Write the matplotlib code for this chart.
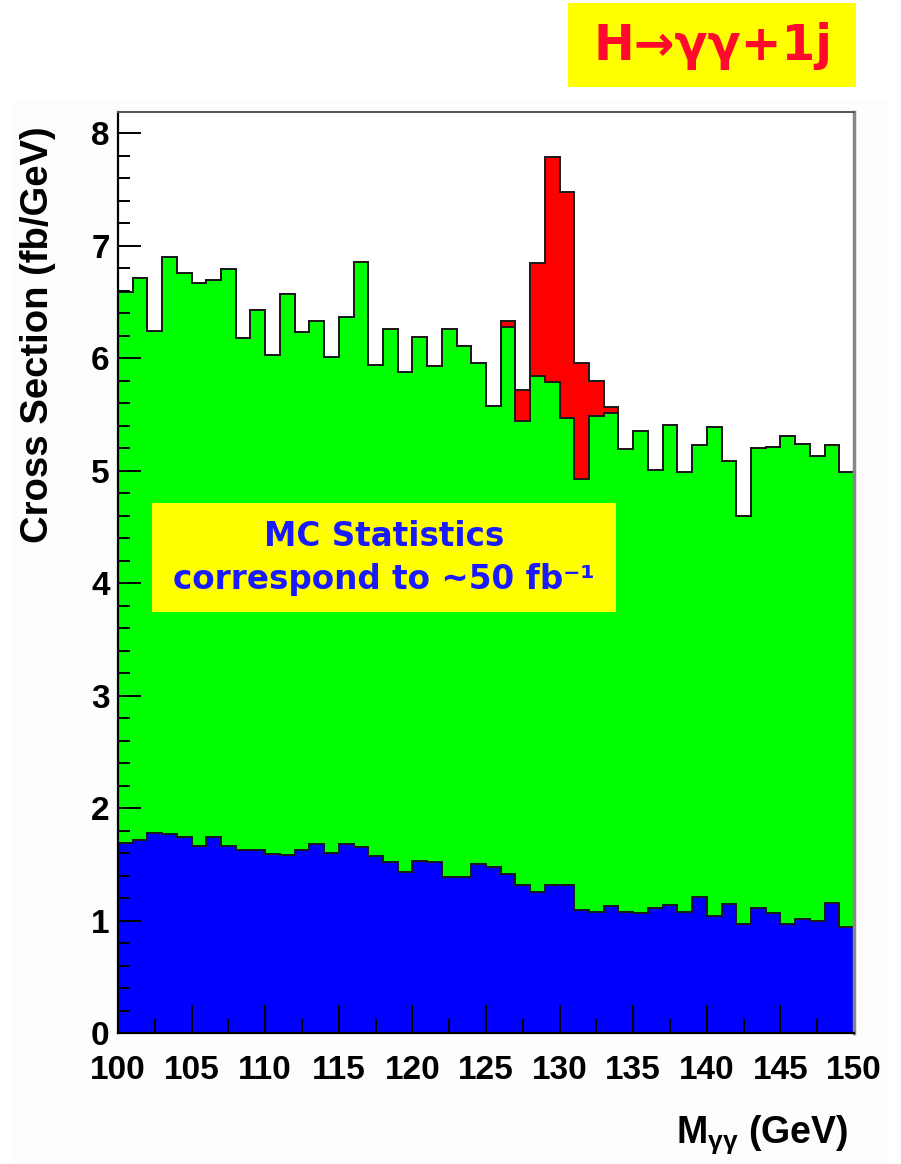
#!/usr/bin/env python3
# -*- coding: utf-8 -*-
"""
H -> gamma gamma + 1 jet: diphoton mass spectrum, signal over background
"""

import numpy as np
import matplotlib.pyplot as plt
from matplotlib.patches import Rectangle
from matplotlib.ticker import MultipleLocator

plt.rcParams['mathtext.fontset'] = 'custom'
plt.rcParams['mathtext.rm'] = 'Liberation Sans:bold'
plt.rcParams['mathtext.it'] = 'Liberation Sans:bold'
plt.rcParams['mathtext.bf'] = 'Liberation Sans:bold'

# 1 GeV bins from 100 to 150 GeV
bin_edges = np.arange(100, 151, 1)

# total background (green top), fb/GeV
background = [
    6.59, 6.71, 6.24, 6.90, 6.76, 6.67, 6.70, 6.79, 6.18, 6.43,
    6.03, 6.57, 6.23, 6.33, 6.01, 6.37, 6.86, 5.94, 6.26, 5.88,
    6.19, 5.93, 6.26, 6.11, 5.96, 5.58, 6.28, 5.44, 5.84, 5.79,
    5.47, 4.93, 5.49, 5.51, 5.19, 5.35, 5.01, 5.41, 4.99, 5.23,
    5.39, 5.09, 4.60, 5.20, 5.21, 5.31, 5.24, 5.13, 5.23, 4.99,
]

# Higgs signal stacked on top of the background
signal = [0.0] * 26 + [0.05, 0.28, 1.01, 2.00, 2.01, 1.03, 0.31, 0.06] + [0.0] * 16

# irreducible part of the background (blue)
irreducible = [
    1.69, 1.72, 1.78, 1.77, 1.74, 1.66, 1.745, 1.66, 1.63, 1.63,
    1.59, 1.58, 1.63, 1.68, 1.60, 1.68, 1.65, 1.57, 1.52, 1.43,
    1.53, 1.52, 1.39, 1.39, 1.50, 1.48, 1.41, 1.32, 1.25, 1.32,
    1.32, 1.09, 1.08, 1.13, 1.08, 1.07, 1.11, 1.14, 1.08, 1.21,
    1.04, 1.15, 0.97, 1.11, 1.07, 0.97, 1.01, 1.00, 1.16, 0.94,
]

x_ticks = np.arange(100, 151, 5)
y_ticks = np.arange(0, 9, 1)

W, H = 901, 1164
fig = plt.figure(figsize=(W / 100, H / 100), dpi=100)

# faint pad background
fig.patches.append(Rectangle((13 / W, 0), 875 / W, 1 - 100 / H, transform=fig.transFigure,
                             facecolor='#fdfdfd', edgecolor='none', zorder=-10))

ax = fig.add_axes([118 / W, 131 / H, 736 / W, 921 / H])
ax.set_facecolor('white')

total = np.array(background) + np.array(signal)
layers = [(total, '#ff0000'), (background, '#00ff00'), (irreducible, '#0000ff')]
for vals, col in layers:
    ax.stairs(vals, bin_edges, baseline=0, fill=True, color=col, zorder=0.5)
    ax.stairs(vals, bin_edges, baseline=0, fill=False, color='#1a1a1a', lw=1.4, zorder=0.6)

ax.set_xlim(100, 150)
ax.set_ylim(0, 8.19)

ax.xaxis.set_major_locator(MultipleLocator(5))
ax.xaxis.set_minor_locator(MultipleLocator(2.5))
ax.yaxis.set_major_locator(MultipleLocator(1))
ax.yaxis.set_minor_locator(MultipleLocator(0.2))
ax.set_xticks(x_ticks)
ax.set_yticks(y_ticks)

ax.tick_params(axis='x', which='major', direction='in', length=20, width=1.4, pad=16,
               top=False, labelsize=24)
ax.tick_params(axis='x', which='minor', direction='in', length=10, width=1.4, top=False)
ax.tick_params(axis='y', which='major', direction='in', length=16.5, width=1.4, pad=6,
               right=False, labelsize=24)
ax.tick_params(axis='y', which='minor', direction='in', length=8.5, width=1.4, right=False)
for lab in ax.get_xticklabels() + ax.get_yticklabels():
    lab.set_fontfamily('Liberation Sans')
    lab.set_fontweight('bold')

ax.spines['left'].set_linewidth(1.6)
ax.spines['bottom'].set_linewidth(1.6)
ax.spines['top'].set_color('#555555')
ax.spines['top'].set_linewidth(1.4)
ax.spines['right'].set_color('#888888')
ax.spines['right'].set_linewidth(2.5)

# axis titles
fig.text(38 / W, 1 - 335 / H, 'Cross Section (fb/GeV)', rotation=90, ha='center', va='center',
         fontsize=27.5, fontfamily='Liberation Sans', fontweight='bold')
fig.text(848 / W, 1 - 1135 / H, r'M$_{\mathregular{γγ}}$ (GeV)', ha='right', va='center',
         fontsize=27, fontfamily='Liberation Sans', fontweight='bold')

# channel label in the top-right corner
fig.patches.append(Rectangle((568 / W, 1 - 87 / H), 288 / W, 84 / H, transform=fig.transFigure,
                             facecolor='#ffff00', edgecolor='none'))
fig.text(713 / W, 1 - 46 / H, 'H→γγ+1j', ha='center', va='center', color='#ff0a2a',
         fontsize=35, fontfamily='DejaVu Sans', fontweight='bold')

# MC statistics note
fig.patches.append(Rectangle((152 / W, 1 - 612 / H), 464 / W, 109 / H, transform=fig.transFigure,
                             facecolor='#ffff00', edgecolor='none', zorder=3))
fig.text(384 / W, 1 - 537 / H, 'MC Statistics', ha='center', va='center', color='#1a1aff',
         fontsize=23.5, fontfamily='DejaVu Sans', fontweight='bold', zorder=4)
fig.text(384 / W, 1 - 580 / H, 'correspond to ~50 fb⁻¹', ha='center', va='center',
         color='#1a1aff', fontsize=23.5, fontfamily='DejaVu Sans', fontweight='bold', zorder=4)

plt.savefig('out.png', dpi=100)
plt.close()
